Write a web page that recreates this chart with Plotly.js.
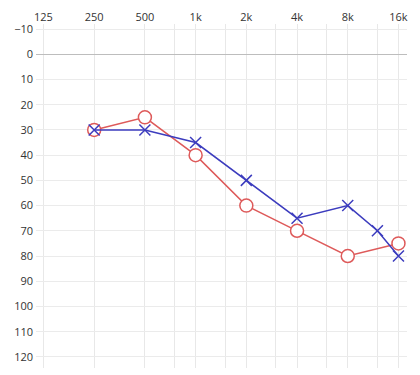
<!DOCTYPE html>
<html>
<head>
<meta charset="utf-8">
<script src="https://cdn.plot.ly/plotly-3.0.1.min.js"></script>
<style>html,body{margin:0;padding:0;background:#fff;}#chart{width:420px;height:375px;}</style>
</head>
<body>
<div id="chart"></div>
<script>
const freqs = [250, 500, 1000, 2000, 4000, 8000, 16000];
const rightEar = [30, 25, 40, 60, 70, 80, 75];
const leftFreqs = [250, 500, 1000, 2000, 4000, 8000, 12000, 16000];
const leftEar = [30, 30, 35, 50, 65, 60, 70, 80];
const xTickVals = [125, 250, 500, 750, 1000, 1500, 2000, 3000, 4000, 6000, 8000, 12000, 16000];
const xTickText = ['125', '250', '500', '', '1k', '', '2k', '', '4k', '', '8k', '', '16k'];
const yTickVals = [-10, 0, 10, 20, 30, 40, 50, 60, 70, 80, 90, 100, 110, 120];

const traces = [
  {
    x: freqs, y: rightEar, type: 'scatter', mode: 'lines+markers',
    line: {color: 'rgb(222,90,90)', width: 1.5},
    marker: {symbol: 'circle', size: 13, color: 'rgba(255,255,255,1)', line: {color: 'rgb(222,90,90)', width: 1.5}},
    hoverinfo: 'skip'
  },
  {
    x: leftFreqs, y: leftEar, type: 'scatter', mode: 'lines+markers',
    line: {color: 'rgb(60,60,190)', width: 1.5},
    marker: {symbol: 'x-thin-open', size: 11, color: 'rgb(60,60,190)', line: {color: 'rgb(60,60,190)', width: 1.5}},
    hoverinfo: 'skip'
  }
];

const layout = {
  width: 420, height: 375,
  margin: {l: 36, r: 13, t: 24, b: 7},
  paper_bgcolor: '#fff', plot_bgcolor: '#fff',
  showlegend: false,
  font: {family: 'Open Sans, Noto Sans, sans-serif', size: 11, color: '#333'},
  xaxis: {
    type: 'log', side: 'top',
    range: [2.0525, 4.2548],
    tickvals: xTickVals, ticktext: xTickText,
    showgrid: true, gridcolor: '#e8e8e8', gridwidth: 1,
    zeroline: false, showline: false, ticks: '',
    fixedrange: true
  },
  yaxis: {
    range: [124.4, -12],
    tickvals: yTickVals,
    showgrid: true, gridcolor: '#ebebeb', gridwidth: 1,
    zeroline: true, zerolinecolor: '#bdbdbd', zerolinewidth: 1,
    showline: false, ticks: '', ticklabelstandoff: 2,
    fixedrange: true
  }
};

Plotly.newPlot('chart', traces, layout, {staticPlot: true, displayModeBar: false});
</script>
</body>
</html>
